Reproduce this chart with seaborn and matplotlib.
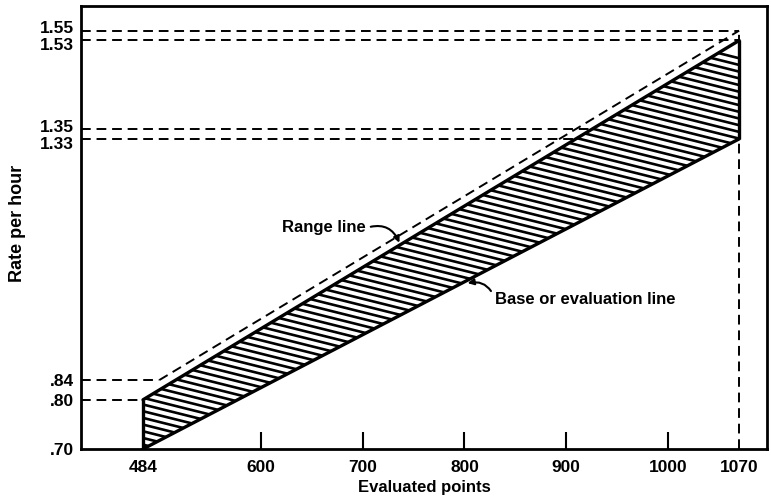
import numpy as np
import pandas as pd
import matplotlib
matplotlib.use("Agg")
import matplotlib.pyplot as plt
import matplotlib.transforms as mtrans
import seaborn as sns

# ---- data ----
x_ends = [484, 1070]
base_rates = [0.70, 1.33]
upper_rates = [0.80, 1.53]
range_x = [500, 1070]
range_rates = [0.84, 1.55]
inner_dash_rates = [0.70, 1.35]
x_ticks = [484, 600, 700, 800, 900, 1000, 1070]
x_tick_labels = ["484", "600", "700", "800", "900", "1000", "1070"]
y_ticks = [0.70, 0.80, 0.84, 1.33, 1.35, 1.53, 1.55]
y_tick_labels = [".70", ".80", ".84", "1.33", "1.35", "1.53", "1.55"]
x_label = "Evaluated points"
y_label = "Rate per hour"
range_label = "Range line"
base_label = "Base or evaluation line"

sns.set_theme(style="white")
plt.rcParams["font.family"] = ["Liberation Sans", "DejaVu Sans"]
plt.rcParams["text.color"] = "black"
plt.rcParams["axes.labelcolor"] = "black"
plt.rcParams["xtick.color"] = "black"
plt.rcParams["ytick.color"] = "black"

fig = plt.figure(figsize=(7.71, 5.0), dpi=100)
ax = fig.add_axes([0.105, 0.102, 0.89, 0.886])
XMIN, XMAX, YMIN, YMAX = 423, 1097.5, 0.70, 1.60
ax.set_xlim(XMIN, XMAX)
ax.set_ylim(YMIN, YMAX)

dash = (0, (5, 3))
lw_d = 1.4

# dashed reference lines
for yv in [1.55, 1.53, 1.35, 1.33]:
    ax.hlines(yv, XMIN, x_ends[1], colors="black", linestyles=dash, lw=lw_d)
ax.hlines(upper_rates[0], XMIN, x_ends[0], colors="black", linestyles=dash, lw=lw_d)
ax.hlines(range_rates[0], XMIN, range_x[0], colors="black", linestyles=dash, lw=lw_d)
ax.vlines(x_ends[1], YMIN, range_rates[1], colors="black", linestyles=dash, lw=lw_d)

# range line (dashed)
sns.lineplot(x=range_x, y=range_rates, ax=ax, color="black", lw=lw_d, linestyle=dash)
# inner dashed line
sns.lineplot(x=x_ends, y=inner_dash_rates, ax=ax, color="black", lw=1.2, linestyle=(0, (3, 2.5)))

# hatched band
poly = ax.fill_between(x_ends, base_rates, upper_rates, facecolor="white", edgecolor="none", zorder=2)
clip = poly.get_paths()[0]
hx = np.array([XMIN, XMAX])
slope = -0.000517
for c in np.arange(0.60, 1.80, 0.0136):
    ln, = ax.plot(hx, c + slope * (hx - x_ends[0]), color="black", lw=1.9, zorder=3)
    ln.set_clip_path(clip, ax.transData)

# solid boundaries
sns.lineplot(x=x_ends, y=base_rates, ax=ax, color="black", lw=2.4, zorder=4)
sns.lineplot(x=x_ends, y=upper_rates, ax=ax, color="black", lw=2.4, zorder=4)
ax.vlines(x_ends[0], base_rates[0], upper_rates[0], colors="black", lw=2.4, zorder=4)
ax.vlines(x_ends[1], base_rates[1], upper_rates[1], colors="black", lw=2.4, zorder=4)

# annotations
ax.annotate(range_label, xy=(736, 1.119), xytext=(621, 1.149), ha="left", va="center",
            fontsize=12, fontweight="bold",
            arrowprops=dict(arrowstyle="-|>", color="black", lw=1.5, relpos=(1, 0.5),
                            connectionstyle="arc3,rad=-0.45", shrinkA=1, shrinkB=0,
                            mutation_scale=9))
ax.annotate(base_label, xy=(803, 1.037), xytext=(830, 1.003), ha="left", va="center",
            fontsize=12, fontweight="bold",
            arrowprops=dict(arrowstyle="-|>", color="black", lw=1.5, relpos=(0, 0.5),
                            connectionstyle="arc3,rad=0.45", shrinkA=1, shrinkB=0,
                            mutation_scale=9))

# axes styling
ax.set_xticks(x_ticks)
ax.set_xticklabels(x_tick_labels, fontsize=12.5, fontweight="bold")
ax.set_yticks(y_ticks)
ax.set_yticklabels(y_tick_labels, fontsize=12.5, fontweight="bold")
ax.tick_params(axis="x", direction="in", length=12, width=1.5, color="black", pad=8, bottom=True)
ax.tick_params(axis="y", length=0, pad=5)
for t in ax.xaxis.get_major_ticks():
    if t.get_loc() in (x_ticks[0], x_ticks[-1]):
        t.tick1line.set_visible(False)
# nudge close pairs of y labels apart
shifts = {"1.55": 4, "1.53": -4, "1.35": 3, "1.33": -4}
for lab in ax.get_yticklabels():
    dy = shifts.get(lab.get_text(), 0)
    if dy:
        lab.set_transform(lab.get_transform() + mtrans.ScaledTranslation(0, dy / 100, fig.dpi_scale_trans))
for s in ax.spines.values():
    s.set_visible(True)
    s.set_color("black")
    s.set_linewidth(2.0)
ax.set_xlabel(x_label, fontsize=12, fontweight="bold")
ax.set_ylabel(y_label, fontsize=13, fontweight="bold")
ax.xaxis.set_label_coords(0.5, -0.07)
ax.yaxis.set_label_coords(-0.08, 0.51)
ax.grid(False)

fig.savefig("out.png", dpi=100)
